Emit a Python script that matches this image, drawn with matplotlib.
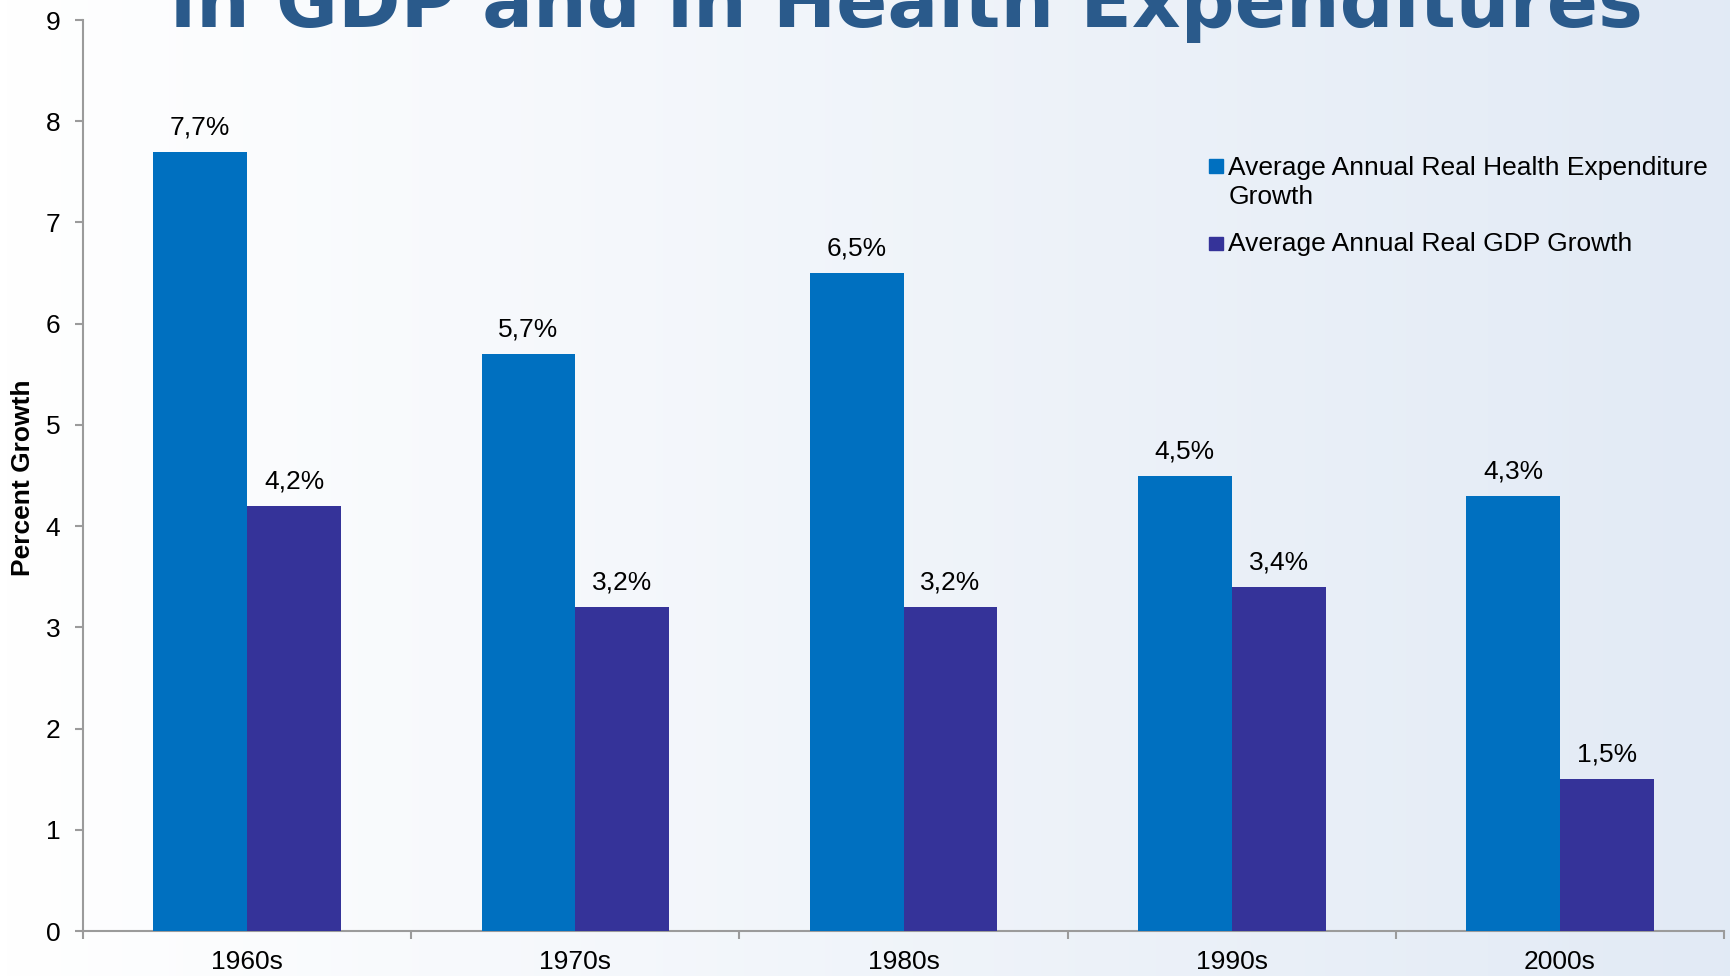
import numpy as np
import matplotlib
matplotlib.use("Agg")
import matplotlib.pyplot as plt
from matplotlib.patches import Rectangle

# data
decades = ["1960s", "1970s", "1980s", "1990s", "2000s"]
health_growth = [7.7, 5.7, 6.5, 4.5, 4.3]
gdp_growth = [4.2, 3.2, 3.2, 3.4, 1.5]
series_names = ["Average Annual Real Health Expenditure\nGrowth",
                "Average Annual Real GDP Growth"]
title = "in GDP and in Health Expenditures"

blue = "#0070C0"
purple = "#353399"
grey = "#9B9B9B"

plt.rcParams['font.family'] = ['Liberation Sans', 'DejaVu Sans']
fs = 19

fig = plt.figure(figsize=(17.31, 9.76), dpi=100)

# background gradient, white to pale blue
bg = fig.add_axes([0, 0, 1, 1], zorder=-10)
grad = np.linspace(0, 1, 256)[None, :, None]
c0 = np.array([1.0, 1.0, 1.0])
c1 = np.array([0.886, 0.918, 0.961])
bg.imshow(c0 + (c1 - c0) * grad, aspect='auto', extent=[0, 1, 0, 1])
bg.set_axis_off()

ax = fig.add_axes([0.048, 0.0461, 0.948, 0.9334])
ax.patch.set_alpha(0)

x = np.arange(len(decades))
w = 0.286
ax.bar(x - w / 2, health_growth, w, color=blue, zorder=3)
ax.bar(x + w / 2, gdp_growth, w, color=purple, zorder=3)

for xs, vals in ((x - w / 2, health_growth), (x + w / 2, gdp_growth)):
    for xi, v in zip(xs, vals):
        ax.annotate(f"{v:.1f}".replace('.', ',') + "%", (xi, v),
                    xytext=(0, 12.5), textcoords='offset points',
                    ha='center', va='baseline', fontsize=fs)

ax.set_xlim(-0.5, len(decades) - 0.5)
ax.set_ylim(0, 9)
ax.set_yticks(range(10))
ax.set_xticks(np.arange(-0.5, len(decades)), [])
ax.set_xticks(x, decades, minor=True)
ax.tick_params(axis='x', which='major', length=6, width=1.5, color=grey)
ax.tick_params(axis='x', which='minor', length=0, pad=14, labelsize=fs)
ax.tick_params(axis='y', length=5.5, width=1.5, color=grey, pad=11, labelsize=fs)

for s in ('top', 'right'):
    ax.spines[s].set_visible(False)
for s in ('left', 'bottom'):
    ax.spines[s].set_color(grey)
    ax.spines[s].set_linewidth(1.5)

fig.text(0.0135, 0.511, "Percent Growth", rotation=90, fontsize=fs,
         fontweight='bold', ha='center', va='center')

# legend drawn by hand, square swatches
sw_x, sw_w, sw_h = 0.6985, 0.0078, 0.0138
fig.patches.append(Rectangle((sw_x, 0.830 - sw_h / 2), sw_w, sw_h,
                             transform=fig.transFigure, color=blue))
fig.text(0.7095, 0.8405, series_names[0], fontsize=fs, ha='left', va='top',
         linespacing=1.29)
fig.patches.append(Rectangle((sw_x, 0.7505 - sw_h / 2), sw_w, sw_h,
                             transform=fig.transFigure, color=purple))
fig.text(0.7095, 0.7505, series_names[1], fontsize=fs, ha='left', va='center')

# title, partly running off the top edge
t = fig.text(0.5235, 1 - 27 / 976, title, fontsize=50, fontweight='bold',
             family='DejaVu Sans', color='#2A5A8B', ha='center', va='baseline')
fig.canvas.draw()
wpx = t.get_window_extent().width
t.set_fontsize(50 * 1475 / wpx)

fig.savefig("out.png", dpi=100)
